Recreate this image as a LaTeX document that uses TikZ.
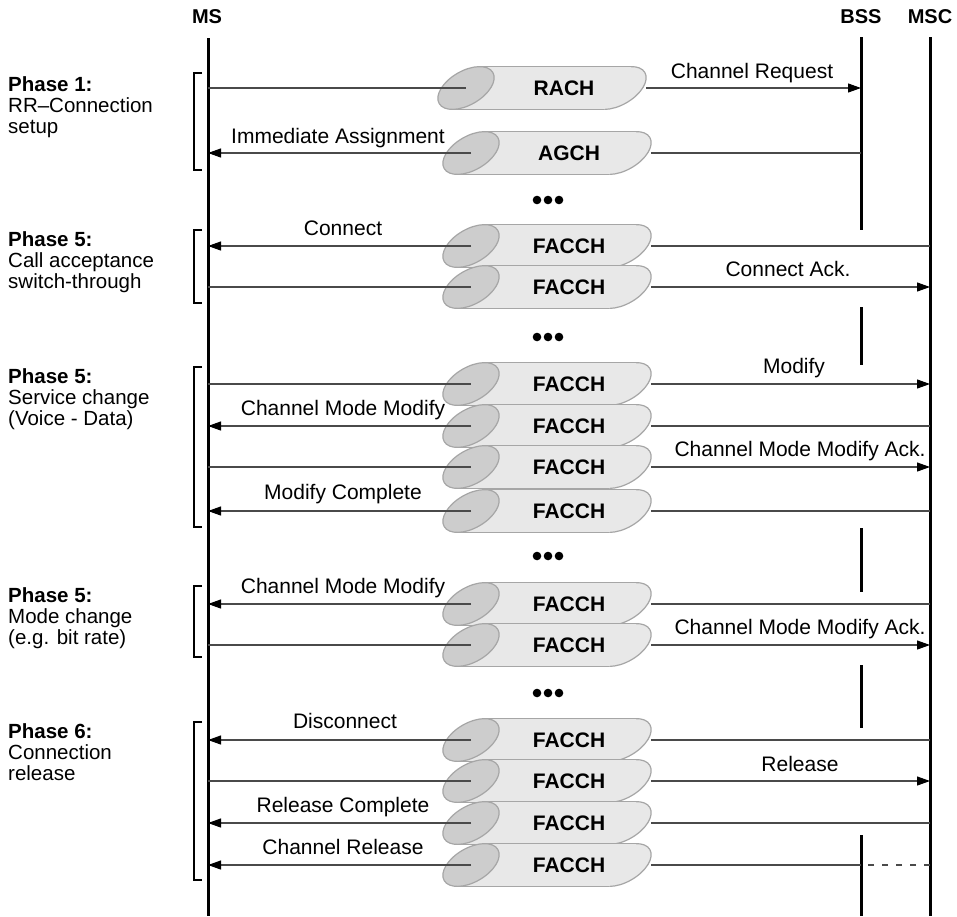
\documentclass[tikz,border=0pt]{standalone}
\usepackage{fontspec}
\setmainfont{Liberation Sans}
\usetikzlibrary{arrows.meta}
\definecolor{cbody}{HTML}{E8E8E8}
\definecolor{cell}{HTML}{CDCDCD}
\definecolor{cline}{HTML}{A6A6A6}
\definecolor{cmsg}{HTML}{4A4A4A}
\tikzset{
  lifeline/.style={line width=3pt, black},
  msg/.style={line width=1.1pt, draw=cmsg},
  arr/.style={msg, -{Triangle[length=13pt,width=9pt,color=black,fill=black]}},
  dmsg/.style={msg, dash pattern=on 6pt off 8pt},
  brk/.style={line width=2.2pt, black},
  lbl/.style={font=\fontsize{21}{21}\selectfont, inner sep=0pt, anchor=base},
  hdr/.style={font=\bfseries\fontsize{20}{22}\selectfont, inner sep=0pt},
  phase/.style={font=\fontsize{20.5}{21}\selectfont, inner sep=0pt, anchor=north west, align=left},
  dot/.style={fill=black},
  chan/.pic={
    \path[fill=cbody, draw=cline, line width=1.2pt, rotate around={30:(152,0)}]
      (152,0) ellipse [x radius=31pt, y radius=17pt];
    \fill[cbody] (13.6,-21.4) -- (165.6,-21.4) -- (138.4,21.4) -- (-13.6,21.4) -- cycle;
    \draw[cline, line width=1.2pt] (13.6,-21.4) -- (165.6,-21.4);
    \draw[cline, line width=1.2pt] (-13.6,21.4) -- (138.4,21.4);
    \path[fill=cell, draw=cline, line width=1.2pt, rotate around={30:(0,0)}]
      (0,0) ellipse [x radius=31pt, y radius=17pt];
    \node[font=\bfseries\fontsize{21}{22}\selectfont, inner sep=0pt] (-t) at (98,0) {#1};
    \coordinate (-l) at (0,0);
    \coordinate (-r) at (180,0);
  }
}
\begin{document}
\begin{tikzpicture}[x=1pt,y=-1pt]
\useasboundingbox[fill=white] (0,0) rectangle (957,916);

% headers and lifelines
\node[hdr] (msT) at (207,17) {MS};
\node[hdr] (bssT) at (861,17) {BSS};
\node[hdr] (mscT) at (930,17) {MSC};
\coordinate (ms) at (208,38);
\coordinate (bss) at (861,37);
\coordinate (msc) at (930,37);
\draw[lifeline] (ms) -- (208,916);
\draw[lifeline] (msc) -- (930,916);
\draw[lifeline] (bss) -- (861,230);
\draw[lifeline] (861,307) -- (861,365);
\draw[lifeline] (861,528) -- (861,592);
\draw[lifeline] (861,665) -- (861,728);
\draw[lifeline] (861,835) -- (861,916);

% phase brackets
\draw[brk] (202,73) -- (194,73) -- (194,170) -- (202,170);
\draw[brk] (202,230) -- (194,230) -- (194,303) -- (202,303);
\draw[brk] (202,367) -- (194,367) -- (194,527) -- (202,527);
\draw[brk] (202,586) -- (194,586) -- (194,657) -- (202,657);
\draw[brk] (202,722) -- (194,722) -- (194,880) -- (202,880);

\node[phase] (p1) at (8,76) {\textbf{Phase 1:}\\RR–Connection\\setup};
\node[phase] (p2) at (8,231) {\textbf{Phase 5:}\\Call acceptance\\switch-through};
\node[phase] (p3) at (8,368) {\textbf{Phase 5:}\\Service change\\(Voice - Data)};
\node[phase] (p4) at (8,587) {\textbf{Phase 5:}\\Mode change\\(e.g. bit rate)};
\node[phase] (p5) at (8,723) {\textbf{Phase 6:}\\Connection\\release};

% channels
\pic (c1) at (466,88) {chan=RACH};
\pic (c2) at (471,153) {chan=AGCH};
\pic (c3) at (471,246) {chan=FACCH};
\pic (c4) at (471,287) {chan=FACCH};
\pic (c5) at (471,384) {chan=FACCH};
\pic (c6) at (471,426) {chan=FACCH};
\pic (c7) at (471,467) {chan=FACCH};
\pic (c8) at (471,511) {chan=FACCH};
\pic (c9) at (471,604) {chan=FACCH};
\pic (c10) at (471,645) {chan=FACCH};
\pic (c11) at (471,740) {chan=FACCH};
\pic (c12) at (471,781) {chan=FACCH};
\pic (c13) at (471,823) {chan=FACCH};
\pic (c14) at (471,865) {chan=FACCH};

% messages
% 1 RACH MS -> BSS
\draw[msg] (c1-l -| ms) -- (c1-l);
\draw[arr] (c1-r) -- (c1-r -| bss);
\node[lbl] (m1) at (752,78) {Channel Request};
% 2 AGCH BSS -> MS
\draw[msg] (c2-r -| bss) -- (c2-r);
\draw[arr] (c2-l) -- (c2-l -| ms);
\node[lbl] (m2) at (338,143) {Immediate Assignment};
% 3 Connect
\draw[msg] (c3-r -| msc) -- (c3-r);
\draw[arr] (c3-l) -- (c3-l -| ms);
\node[lbl] (m3) at (343,235) {Connect};
% 4 Connect Ack.
\draw[msg] (c4-l -| ms) -- (c4-l);
\draw[arr] (c4-r) -- (c4-r -| msc);
\node[lbl] (m4) at (788,276) {Connect Ack.};
% 5 Modify
\draw[msg] (c5-l -| ms) -- (c5-l);
\draw[arr] (c5-r) -- (c5-r -| msc);
\node[lbl] (m5) at (794,373) {Modify};
% 6 Channel Mode Modify
\draw[msg] (c6-r -| msc) -- (c6-r);
\draw[arr] (c6-l) -- (c6-l -| ms);
\node[lbl] (m6) at (343,415) {Channel Mode Modify};
% 7 Channel Mode Modify Ack.
\draw[msg] (c7-l -| ms) -- (c7-l);
\draw[arr] (c7-r) -- (c7-r -| msc);
\node[lbl] (m7) at (800,456) {Channel Mode Modify Ack.};
% 8 Modify Complete
\draw[msg] (c8-r -| msc) -- (c8-r);
\draw[arr] (c8-l) -- (c8-l -| ms);
\node[lbl] (m8) at (343,499) {Modify Complete};
% 9 Channel Mode Modify
\draw[msg] (c9-r -| msc) -- (c9-r);
\draw[arr] (c9-l) -- (c9-l -| ms);
\node[lbl] (m9) at (343,593) {Channel Mode Modify};
% 10 Channel Mode Modify Ack.
\draw[msg] (c10-l -| ms) -- (c10-l);
\draw[arr] (c10-r) -- (c10-r -| msc);
\node[lbl] (m10) at (800,634) {Channel Mode Modify Ack.};
% 11 Disconnect
\draw[msg] (c11-r -| msc) -- (c11-r);
\draw[arr] (c11-l) -- (c11-l -| ms);
\node[lbl] (m11) at (345,728) {Disconnect};
% 12 Release
\draw[msg] (c12-l -| ms) -- (c12-l);
\draw[arr] (c12-r) -- (c12-r -| msc);
\node[lbl] (m12) at (800,771) {Release};
% 13 Release Complete
\draw[msg] (c13-r -| msc) -- (c13-r);
\draw[arr] (c13-l) -- (c13-l -| ms);
\node[lbl] (m13) at (343,812) {Release Complete};
% 14 Channel Release
\draw[msg] (c14-r -| bss) -- (c14-r);
\draw[dmsg] (c14-r -| msc) -- (c14-r -| bss);
\draw[arr] (c14-l) -- (c14-l -| ms);
\node[lbl] (m14) at (343,854) {Channel Release};

% continuation dots
\foreach \yy in {200,337,556,693}{
  \fill[dot] (537,\yy) circle (4.3pt);
  \fill[dot] (548,\yy) circle (4.3pt);
  \fill[dot] (559,\yy) circle (4.3pt);
}
\end{tikzpicture}
\end{document}
